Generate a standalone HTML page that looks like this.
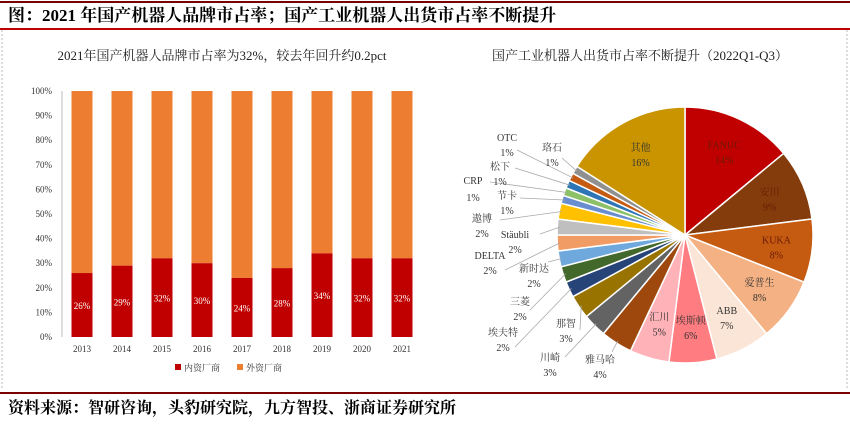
<!DOCTYPE html>
<html><head><meta charset="utf-8"><style>
body{margin:0;background:#fff;width:850px;height:423px;overflow:hidden;font-family:"Liberation Serif","Noto Serif CJK SC",serif;}
</style></head><body>
<svg width="850" height="423" xmlns="http://www.w3.org/2000/svg">
<line x1="0" y1="2" x2="850" y2="2" stroke="#7a0000" stroke-width="2"/>
<text x="8" y="21" font-size="17" font-weight="bold" fill="#000">图：2021 年国产机器人品牌市占率；国产工业机器人出货市占率不断提升</text>
<line x1="0" y1="29" x2="850" y2="29" stroke="#c00000" stroke-width="2"/>
<line x1="2" y1="30" x2="2" y2="390" stroke="#bbb" stroke-dasharray="2,2"/>
<line x1="847" y1="30" x2="847" y2="390" stroke="#bbb" stroke-dasharray="2,2"/>
<text x="222" y="60" font-size="13" text-anchor="middle" fill="#222">2021年国产机器人品牌市占率为32%，较去年回升约0.2pct</text>
<g id="bars"></g>
<text x="640" y="60" font-size="13" text-anchor="middle" fill="#222">国产工业机器人出货市占率不断提升（2022Q1-Q3）</text>
<g id="pie"></g>
<line x1="0" y1="393" x2="850" y2="393" stroke="#7a0000" stroke-width="2"/>
<text x="8" y="413" font-size="16" font-weight="bold" fill="#000">资料来源：智研咨询，头豹研究院，九方智投、浙商证券研究所</text>
</svg>
<script>
const years=["2013","2014","2015","2016","2017","2018","2019","2020","2021"];
const domestic=[26,29,32,30,24,28,34,32,32];
const yTicks=[0,10,20,30,40,50,60,70,80,90,100];
const pieLabels=["FANUC","安川","KUKA","爱普生","ABB","埃斯顿","汇川","雅马哈","川崎","那智","埃夫特","三菱","新时达","DELTA","Stäubli","遨博","节卡","CRP","松下","OTC","珞石","其他"];
const pieValues=[14,9,8,8,7,6,5,4,3,3,2,2,2,2,2,2,1,1,1,1,1,16];
const NS="http://www.w3.org/2000/svg";
function mk(tag,attrs,parent,txt){const e=document.createElementNS(NS,tag);for(const k in attrs)e.setAttribute(k,attrs[k]);if(txt!==undefined)e.textContent=txt;parent.appendChild(e);return e;}
const x0=62,x1=422,yTop=91,yBot=337;
const yS=v=>yBot-(yBot-yTop)*v/100;
const step=(x1-x0)/years.length;
const xS=i=>x0+step*(i+0.5);
const bg=document.getElementById('bars');
yTicks.forEach(t=>{const tx=mk('text',{x:52,y:yS(t)+3,'font-size':9,'text-anchor':'end',fill:'#333'},bg,t+'%');

});
const ax=mk('line',{x1:x0,y1:yTop,x2:x0,y2:yBot,stroke:'#bbb'},bg);


const bw=21;
years.forEach((yr,i)=>{const cx=xS(i);const v=domestic[i];
const r=mk('rect',{x:cx-bw/2,y:yS(100),width:bw,height:yS(v)-yS(100),fill:'#ed7d31'},bg);


const d=mk('rect',{x:cx-bw/2,y:yS(v),width:bw,height:yBot-yS(v),fill:'#c00000'},bg);


const l=mk('text',{x:cx,y:yS(v/2)+4,'font-size':9,'text-anchor':'middle',fill:'#fff'},bg,v+'%');


const xl=mk('text',{x:cx,y:yBot+15,'font-size':9,'text-anchor':'middle',fill:'#333'},bg,yr);

});
[[175,'#c00000','内资厂商'],[237,'#ed7d31','外资厂商']].forEach(([lx,c,t])=>{
const s=mk('rect',{x:lx,y:364,width:6,height:6,fill:c},bg);


const tt=mk('text',{x:lx+9,y:371,'font-size':9,fill:'#333'},bg,t);

});
const colors=["#c00000","#843c0c","#c55a11","#f4b183","#fbe5d6","#ff7c80","#ffb3b8","#9e480e","#636363","#997300","#264478","#43682b","#6fa8dc","#f19c65","#bfbfbf","#ffc000","#698ed0","#8cc168","#2e75b6","#c55a11","#909090","#c99400"];
const pg=document.getElementById('pie');
const cx=685,cy=235,R=128;
const tot=pieValues.reduce((a,b)=>a+b,0);
let a=-Math.PI/2;
const inside={0:1,1:1,2:1,3:1,4:1,5:1,6:1,21:1};
const outPos={7:[600,359],8:[550,357],9:[566,323],10:[503,332],11:[520,301],12:[534,268],13:[490,255],14:[515,234],15:[482,218],16:[507,195],17:[473,180],18:[500,166],19:[507,137],20:[552,147]};
const lineEnd={7:[612,352],8:[565,357],9:[580,330],10:[515,347],11:[530,310],12:[548,262],13:[505,270],14:[540,234],15:[500,220],16:[520,198],17:[490,182],18:[515,168],19:[517,150],20:[562,158]};
pieValues.forEach((v,i)=>{const da=v/tot*2*Math.PI;const b=a+da;
const p=`M${cx},${cy} L${cx+R*Math.cos(a)},${cy+R*Math.sin(a)} A${R},${R} 0 ${da>Math.PI?1:0} 1 ${cx+R*Math.cos(b)},${cy+R*Math.sin(b)} Z`;
const s=mk('path',{d:p,fill:colors[i],stroke:'#fff','stroke-width':1.5},pg);


const m=(a+b)/2;let tx,ty;
if(inside[i]){const rr=R*0.72;tx=cx+rr*Math.cos(m);ty=cy+rr*Math.sin(m)-7;}
else{[tx,ty]=outPos[i];const [ex,ey]=lineEnd[i];
const ln=mk('line',{x1:cx+R*0.98*Math.cos(m),y1:cy+R*0.98*Math.sin(m),x2:ex,y2:ey,stroke:'#aaa','stroke-width':0.8},pg);

}
const fc=(i<3)?'#6a1a05':'#333';
const t1=mk('text',{x:tx,y:ty+4,'font-size':10,'text-anchor':'middle',fill:fc},pg,pieLabels[i]);


const t2=mk('text',{x:tx,y:ty+(i==17?21:19),'font-size':10,'text-anchor':'middle',fill:fc},pg,v+'%');


a=b;});
</script>
</body></html>
